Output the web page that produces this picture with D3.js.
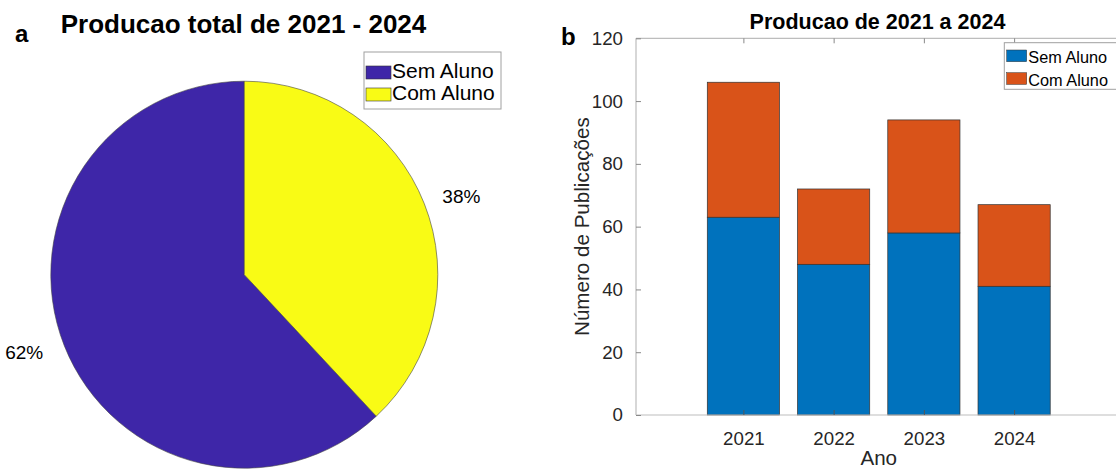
<!DOCTYPE html>
<html>
<head>
<meta charset="utf-8">
<script src="https://cdn.jsdelivr.net/npm/d3@7/dist/d3.min.js"></script>
<style>
  html, body { margin: 0; padding: 0; background: #fff; }
  svg { display: block; font-family: "Liberation Sans", Arial, sans-serif; }
</style>
</head>
<body>
<svg id="chart" width="1116" height="470"></svg>
<script>
// ---- data ----
const years = [2021, 2022, 2023, 2024];
const semAluno = [63, 48, 58, 41];
const comAluno = [43, 24, 36, 26];
const seriesNames = ["Sem Aluno", "Com Aluno"];
const pieColors = ["#3e26a8", "#f9fb15"];
const barColors = ["#0072bd", "#d95319"];
const yTicks = [0, 20, 40, 60, 80, 100, 120];
const titleA = "Producao total de 2021 - 2024";
const titleB = "Producao de 2021 a 2024";
const yLabel = "Número de Publicações";
const xLabel = "Ano";

const svg = d3.select("#chart");

// ================= Panel a: pie =================
const pieTotals = [d3.sum(semAluno), d3.sum(comAluno)];
const grand = d3.sum(pieTotals);
const cx = 244.3, cy = 274.7, R = 193.5;

const pie = d3.pie().sort(null).startAngle(0).endAngle(-2 * Math.PI);
const arcs = pie(pieTotals);
const arc = d3.arc().innerRadius(0).outerRadius(R);

const gPie = svg.append("g").attr("transform", `translate(${cx},${cy})`);
gPie.selectAll("path").data(arcs).join("path")
  .attr("d", arc)
  .attr("fill", (d, i) => pieColors[i])
  .attr("stroke", "#444")
  .attr("stroke-width", 0.6);

gPie.selectAll("text.pct").data(arcs).join("text")
  .attr("class", "pct")
  .each(function(d, i) {
    const mid = (d.startAngle + d.endAngle) / 2;
    const rr = R * 1.1;
    const x = rr * Math.sin(mid);
    const y = -rr * Math.cos(mid);
    d3.select(this)
      .attr("x", x < 0 ? x - 3 : x)
      .attr("y", y)
      .attr("dy", "0.35em")
      .attr("text-anchor", x < 0 ? "end" : "start");
  })
  .attr("font-size", 19)
  .attr("fill", "#000")
  .text(d => Math.round(d.value / grand * 100) + "%");

svg.append("text")
  .attr("x", 243.5).attr("y", 33)
  .attr("text-anchor", "middle")
  .attr("font-size", 26).attr("font-weight", "bold")
  .attr("fill", "#000")
  .text(titleA);

svg.append("text")
  .attr("x", 15).attr("y", 42)
  .attr("font-size", 24).attr("font-weight", "bold")
  .text("a");

// legend a
const legA = svg.append("g").attr("transform", "translate(364,52)");
legA.append("rect").attr("width", 137).attr("height", 57)
  .attr("fill", "#fff").attr("stroke", "#a0a0a0").attr("stroke-width", 1);
seriesNames.forEach((name, i) => {
  legA.append("rect").attr("x", 2).attr("y", 14 + i * 22).attr("width", 25).attr("height", 13)
    .attr("fill", pieColors[i]).attr("stroke", "#333").attr("stroke-width", 0.6);
  legA.append("text").attr("x", 28).attr("y", 25.5 + i * 22)
    .attr("font-size", 21).attr("fill", "#000").text(name);
});

// ================= Panel b: stacked bars =================
const xLeft = 636, xRight = 1121.5, yBottom = 415, yTop = 38.3;
const x = d3.scaleLinear().domain([2019.81, 2025.19]).range([xLeft, xRight]);
const y = d3.scaleLinear().domain([0, 120]).range([yBottom, yTop]);
const unit = x(2022) - x(2021);
const bw = unit * 0.8;

const stackData = years.map((yr, i) => ({ year: yr, "Sem Aluno": semAluno[i], "Com Aluno": comAluno[i] }));
const stacked = d3.stack().keys(seriesNames)(stackData);

const gBars = svg.append("g");
stacked.forEach((layer, si) => {
  gBars.selectAll(null).data(layer).join("rect")
    .attr("x", d => x(d.data.year) - bw / 2)
    .attr("width", bw)
    .attr("y", d => y(d[1]))
    .attr("height", d => y(d[0]) - y(d[1]))
    .attr("fill", barColors[si])
    .attr("stroke", "#333")
    .attr("stroke-width", 0.7);
});

// axes
const axisColor = "#bdbdbd";
const gAxes = svg.append("g");
gAxes.append("line").attr("x1", xLeft).attr("x2", xRight).attr("y1", yTop).attr("y2", yTop)
  .attr("stroke", axisColor).attr("stroke-width", 1.2);
gAxes.append("line").attr("x1", xLeft).attr("x2", xRight).attr("y1", yBottom).attr("y2", yBottom)
  .attr("stroke", axisColor).attr("stroke-width", 1.2);
gAxes.append("line").attr("x1", xLeft).attr("x2", xLeft).attr("y1", yTop).attr("y2", yBottom)
  .attr("stroke", axisColor).attr("stroke-width", 1.2);

const yAxis = d3.axisLeft(y).tickValues(yTicks).tickSize(-5).tickPadding(13);
const gy = svg.append("g").attr("transform", `translate(${xLeft},0)`).call(yAxis);
gy.select(".domain").remove();
gy.selectAll(".tick line").attr("stroke", "#888");
gy.selectAll(".tick text").attr("font-size", 18.7).attr("fill", "#262626")
  .attr("font-family", "Liberation Sans, Arial, sans-serif");

const xAxis = d3.axisBottom(x).tickValues(years).tickFormat(d3.format("d")).tickSize(-5).tickPadding(17);
const gx = svg.append("g").attr("transform", `translate(0,${yBottom})`).call(xAxis);
gx.select(".domain").remove();
gx.selectAll(".tick line").attr("stroke", "#555");
gx.selectAll(".tick text").attr("font-size", 18.7).attr("fill", "#262626")
  .attr("font-family", "Liberation Sans, Arial, sans-serif");

const xAxisTop = d3.axisTop(x).tickValues(years).tickFormat("").tickSize(-5);
const gxt = svg.append("g").attr("transform", `translate(0,${yTop})`).call(xAxisTop);
gxt.select(".domain").remove();
gxt.selectAll(".tick line").attr("stroke", "#888");

// labels
svg.append("text")
  .attr("transform", `translate(589,${(yTop + yBottom) / 2}) rotate(-90)`)
  .attr("text-anchor", "middle")
  .attr("font-size", 20.6).attr("fill", "#262626")
  .text(yLabel);

svg.append("text")
  .attr("x", (xLeft + xRight) / 2).attr("y", 465)
  .attr("text-anchor", "middle")
  .attr("font-size", 20.6).attr("fill", "#262626")
  .text(xLabel);

svg.append("text")
  .attr("x", 877.5).attr("y", 29)
  .attr("text-anchor", "middle")
  .attr("font-size", 21.5).attr("font-weight", "bold").attr("fill", "#000")
  .text(titleB);

svg.append("text")
  .attr("x", 561).attr("y", 45)
  .attr("font-size", 24).attr("font-weight", "bold")
  .text("b");

// legend b
const legB = svg.append("g").attr("transform", "translate(1004.3,42.7)");
legB.append("rect").attr("width", 125).attr("height", 46.6)
  .attr("fill", "#fff").attr("stroke", "#a0a0a0").attr("stroke-width", 1);
seriesNames.forEach((name, i) => {
  legB.append("rect").attr("x", 2.4).attr("y", 7.3 + i * 22.7).attr("width", 20).attr("height", 11.7)
    .attr("fill", barColors[i]).attr("stroke", "#333").attr("stroke-width", 0.5);
  legB.append("text").attr("x", 24).attr("y", 20.6 + i * 22.5)
    .attr("font-size", 16.3).attr("fill", "#000").text(name);
});
</script>
</body>
</html>
